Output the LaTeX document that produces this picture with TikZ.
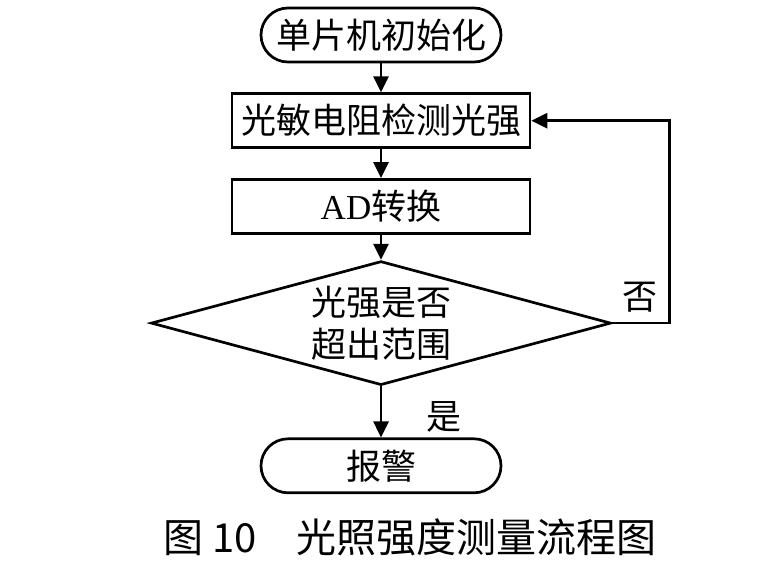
\documentclass[tikz,border=0pt]{standalone}
\usepackage{fontspec}
\setmainfont{Liberation Serif}
\newfontfamily\cjk{Noto Sans CJK SC}
\usetikzlibrary{shapes.geometric, positioning, arrows.meta, calc}
\tikzset{
->, % makes the connectors directed
>={Triangle[length=16pt,width=15pt]}, % filled arrow heads
node distance=29pt, % gap between two boxes
every node/.style={font=\fontsize{35}{42}\selectfont\cjk}, % text of every box
terminal/.style={draw, rounded corners=27pt, minimum width=240pt, minimum height=54pt, inner sep=0pt}, % start and end
process/.style={draw, minimum width=298pt, minimum height=54pt, inner sep=0pt}, % plain steps
decision/.style={draw, diamond, aspect=3.7, minimum width=460pt, minimum height=124pt, inner sep=0pt, align=center}, % the test
}

\begin{document}
\begin{tikzpicture}[x=1pt, y=-1pt, line width=2.7pt]
    \useasboundingbox (0,0) rectangle (783,571);
    \node[terminal] (init) at (381,35) {单片机初始化};
    \node[process, below=of init] (detect) {光敏电阻检测光强};
    \node[process, below=of detect] (convert) {{\rmfamily AD}转换};
    \node[decision, below=25pt of convert] (check) {光强是否\\超出范围};
    \node[terminal, below=51pt of check] (alarm) {报警};
    \coordinate[right=57pt of check.east] (loop);
    \node (no) at (640,297) {否};
    \node (yes) at (444,417) {是};
    \node[font=\fontsize{40}{48}\selectfont\cjk] (caption) at (410,537) {图 10\hspace{40pt}光照强度测量流程图};
    \draw (init) -- (detect);
    \draw (detect) -- (convert);
    \draw (convert) -- (check);
    \draw (check) -- (alarm);
    \draw (check.east) -- (loop) |- (detect.east);
  \end{tikzpicture}
\end{document}
